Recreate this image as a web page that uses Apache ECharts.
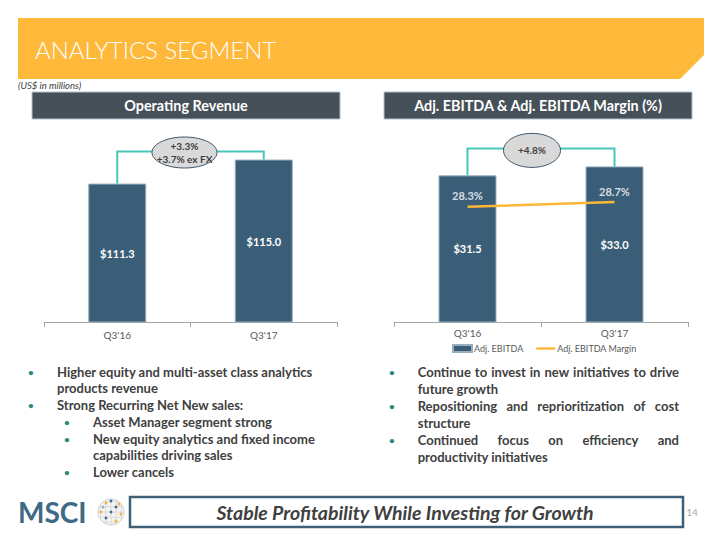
<!DOCTYPE html>
<html><head><meta charset="utf-8">
<script src="https://cdn.jsdelivr.net/npm/echarts@6/dist/echarts.min.js"></script>
<style>html,body{margin:0;padding:0;background:#fff}#c{width:720px;height:540px}</style>
</head><body><div id="c"></div>
<script>
// ---------- data ----------
const categories = ["Q3'16", "Q3'17"];
const operatingRevenue = [111.3, 115.0];
const adjEbitda = [31.5, 33.0];
const adjEbitdaMargin = [28.3, 28.7];
const revenueGrowthLabels = ["+3.3%", "+3.7% ex FX"];
const ebitdaGrowthLabels = ["+4.8%"];
const leftBullets = [
  {level: 0, lines: ["Higher equity and multi-asset class analytics", "products revenue"]},
  {level: 0, lines: ["Strong Recurring Net New sales:"]},
  {level: 1, lines: ["Asset Manager segment strong"]},
  {level: 1, lines: ["New equity analytics and fixed income", "capabilities driving sales"]},
  {level: 1, lines: ["Lower cancels"]}
];
const rightBullets = [
  ["Continue to invest in new initiatives to drive", "future growth"],
  ["Repositioning and reprioritization of cost", "structure"],
  ["Continued focus on efficiency and", "productivity initiatives"]
];

// ---------- styles ----------
const FONT = 'Lato, "Open Sans", sans-serif';
const BAR = '#3A5E78';
const TEAL = '#47C7BA';
const ORANGE = '#FBB735';
const TXT = '#404040';

const chart = echarts.init(document.getElementById('c'), null, {renderer: 'svg'});

function xAxisCfg(gi, margin) {
  return {
    type: 'category', gridIndex: gi, data: categories,
    axisLine: {lineStyle: {color: '#A6A6A6', width: 1}},
    axisTick: {show: true, length: 5, lineStyle: {color: '#A6A6A6'}},
    axisLabel: {color: '#595959', fontSize: 10, fontFamily: FONT, margin: margin}
  };
}
const barLabel = {
  show: true, position: 'inside', color: '#fff', fontWeight: 'bold', fontSize: 11, fontFamily: FONT,
  formatter: p => '$' + p.value.toFixed(1)
};

chart.setOption({
  animation: false,
  grid: [
    {left: 44, top: 127, width: 293, height: 195},
    {left: 394, top: 124.5, width: 294, height: 197.5}
  ],
  xAxis: [xAxisCfg(0, 8), xAxisCfg(1, 6)],
  yAxis: [
    {type: 'value', gridIndex: 0, min: 90, max: 120, show: false},
    {type: 'value', gridIndex: 1, min: 7, max: 40, show: false},
    {type: 'value', gridIndex: 1, min: 18.5, max: 35.3, show: false}
  ],
  legend: {
    left: 452, top: 344, padding: 0, itemWidth: 19, itemHeight: 7, itemGap: 13,
    textStyle: {color: '#595959', fontSize: 9, fontFamily: FONT, padding: [0, 0, 0, -3]},
    data: [{name: 'Adj. EBITDA', icon: 'rect'},
           {name: 'Adj. EBITDA Margin', icon: 'path://M0,0 L20,0 L20,2.5 L0,2.5 Z'}]
  },
  series: [
    {type: 'bar', name: 'Operating Revenue', xAxisIndex: 0, yAxisIndex: 0, data: operatingRevenue,
     barWidth: 58, itemStyle: {color: BAR, borderColor: '#9AAFBD', borderWidth: 1}, label: barLabel},
    {type: 'bar', name: 'Adj. EBITDA', xAxisIndex: 1, yAxisIndex: 1, data: adjEbitda,
     barWidth: 58, itemStyle: {color: BAR, borderColor: '#9AAFBD', borderWidth: 1}, label: barLabel},
    {type: 'line', name: 'Adj. EBITDA Margin', xAxisIndex: 1, yAxisIndex: 2, data: adjEbitdaMargin,
     symbol: 'none', color: ORANGE, itemStyle: {color: ORANGE}, lineStyle: {color: ORANGE, width: 2.5}, z: 5},
    {type: 'scatter', name: 'Margin labels', xAxisIndex: 1, yAxisIndex: 2, data: adjEbitdaMargin,
     symbolSize: 1, itemStyle: {color: 'rgba(0,0,0,0)'}, z: 6,
     label: {show: true, position: 'top', distance: 5, color: '#fff', fontWeight: 'bold', fontSize: 11,
             fontFamily: FONT, formatter: p => p.value.toFixed(1) + '%'}}
  ]
});

// ---------- annotation graphics ----------
const px = (xi, yi, x, y) => chart.convertToPixel({xAxisIndex: xi, yAxisIndex: yi}, [x, y]);
function ellipsePts(cx, cy, rx, ry) {
  const pts = [];
  for (let i = 0; i < 72; i++) {
    const a = i / 72 * Math.PI * 2;
    pts.push([cx + rx * Math.cos(a), cy + ry * Math.sin(a)]);
  }
  return pts;
}
const g = [];

// banner & title
g.push({type: 'polygon', shape: {points: [[18, 18], [704, 18], [704, 55], [680, 79], [18, 79]]},
        style: {fill: '#FEB83A'}, z: 1});
g.push({type: 'text', x: 35, y: 49, style: {text: 'ANALYTICS SEGMENT', fill: '#fff',
        font: '300 24px ' + FONT, verticalAlign: 'middle'}, z: 2});
g.push({type: 'text', x: 18, y: 85, style: {text: '(US$ in millions)', fill: TXT,
        font: 'italic 9.5px ' + FONT, verticalAlign: 'middle'}, z: 2});

// panel headers
[[32, 'Operating Revenue'], [384, 'Adj. EBITDA & Adj. EBITDA Margin (%)']].forEach(([x, t]) => {
  g.push({type: 'rect', shape: {x: x, y: 92, width: 308, height: 27},
          style: {fill: '#465059', stroke: '#B4C2CC', lineWidth: 1}, z: 1});
  g.push({type: 'text', x: x + 154, y: 105.5, style: {text: t, fill: '#fff',
          font: 'bold 14.4px ' + FONT, align: 'center', verticalAlign: 'middle'}, z: 2});
});

// connectors
function connector(xi, yi, vals, lift, ellDx, ellDy, rx, ry, labels) {
  const a = px(xi, yi, 0, vals[0]);
  const b = px(xi, yi, 1, vals[1]);
  const yTop = Math.min(a[1], b[1]) - lift;
  g.push({type: 'polyline', shape: {points: [[a[0], a[1]], [a[0], yTop], [b[0], yTop], [b[0], b[1]]]},
          style: {stroke: TEAL, lineWidth: 2, fill: null}, z: 3});
  const cx = (a[0] + b[0]) / 2 + ellDx, cy = yTop + ellDy;
  g.push({type: 'polygon', shape: {points: ellipsePts(cx, cy, rx, ry)},
          style: {fill: '#D9D9D9', stroke: '#3E5468', lineWidth: 1}, z: 4});
  const n = labels.length;
  labels.forEach((t, i) => {
    g.push({type: 'text', x: cx, y: cy + (i - (n - 1) / 2) * 13, style: {text: t, fill: TXT,
            font: 'bold 10px ' + FONT, align: 'center', verticalAlign: 'middle'}, z: 5});
  });
}
connector(0, 0, operatingRevenue, 8, -6, 1, 32.5, 15.5, revenueGrowthLabels);
connector(1, 1, adjEbitda, 18, -9, 2, 28.5, 17, ebitdaGrowthLabels);

// bullets
const BFONT = 'bold 13px ' + FONT;
const LH = 16.7;
let y = 371.7;
leftBullets.forEach(b => {
  const bx = b.level === 0 ? 31 : 67, tx = b.level === 0 ? 57 : 93;
  g.push({type: 'text', x: bx, y: y, style: {text: '•', fill: '#2A8A7E', font: 'bold 10px ' + FONT,
          align: 'center', verticalAlign: 'middle'}, z: 2});
  b.lines.forEach(l => {
    g.push({type: 'text', x: tx, y: y, style: {text: l, fill: TXT, font: BFONT, verticalAlign: 'middle'}, z: 2});
    y += LH;
  });
});

const ctx = document.createElement('canvas').getContext('2d');
ctx.font = BFONT;
const RX0 = 417.7, RX1 = 679;
y = 372.3;
rightBullets.forEach(lines => {
  g.push({type: 'text', x: 392, y: y, style: {text: '•', fill: '#2A8A7E', font: 'bold 10px ' + FONT,
          align: 'center', verticalAlign: 'middle'}, z: 2});
  lines.forEach((l, li) => {
    if (li < lines.length - 1) {
      const words = l.split(' ');
      const widths = words.map(w => ctx.measureText(w).width);
      const total = widths.reduce((s, w) => s + w, 0);
      const gap = (RX1 - RX0 - total) / (words.length - 1);
      let x = RX0;
      words.forEach((w, i) => {
        g.push({type: 'text', x: x, y: y, style: {text: w, fill: TXT, font: BFONT, verticalAlign: 'middle'}, z: 2});
        x += widths[i] + gap;
      });
    } else {
      g.push({type: 'text', x: RX0, y: y, style: {text: l, fill: TXT, font: BFONT, verticalAlign: 'middle'}, z: 2});
    }
    y += 17;
  });
});

// footer
g.push({type: 'text', x: 18, y: 512, style: {text: 'MSCI', fill: '#3E6A86', font: 'bold 28px ' + FONT,
        verticalAlign: 'middle'}, z: 2});
const gc = [111, 512], gr = 13;
g.push({type: 'circle', shape: {cx: gc[0], cy: gc[1], r: gr}, style: {fill: '#F4F4F4', stroke: '#D0D0D0', lineWidth: 1}, z: 2});
for (let i = -2; i <= 2; i++) {
  const d = i * 5.2, h = Math.sqrt(gr * gr - d * d);
  g.push({type: 'line', shape: {x1: gc[0] + d, y1: gc[1] - h, x2: gc[0] + d, y2: gc[1] + h}, style: {stroke: '#D6D6D6', lineWidth: 0.8}, z: 2});
  g.push({type: 'line', shape: {x1: gc[0] - h, y1: gc[1] + d, x2: gc[0] + h, y2: gc[1] + d}, style: {stroke: '#D6D6D6', lineWidth: 0.8}, z: 2});
}
const dots = [[-5, -9, '#F5B335'], [5, -5, '#3E6A86'], [-10, 0, '#F5B335'], [0, 0, '#3E6A86'], [10, 2, '#F5B335'],
              [-5, 6, '#3E6A86'], [5, 9, '#F5B335'], [0, -11, '#3E6A86'], [-8, -5, '#9AAFBD'], [8, -8, '#F5B335']];
dots.forEach(d => g.push({type: 'circle', shape: {cx: gc[0] + d[0], cy: gc[1] + d[1], r: 1.4}, style: {fill: d[2]}, z: 3}));
g.push({type: 'rect', shape: {x: 130, y: 497, width: 553, height: 30},
        style: {fill: '#fff', stroke: '#3D5F78', lineWidth: 2.5}, z: 2});
g.push({type: 'text', x: 405, y: 512, style: {text: 'Stable Profitability While Investing for Growth', fill: TXT,
        font: 'italic bold 19.5px ' + FONT, align: 'center', verticalAlign: 'middle'}, z: 3});
g.push({type: 'text', x: 692, y: 512, style: {text: '14', fill: '#A6A6A6', font: '10px ' + FONT,
        align: 'center', verticalAlign: 'middle'}, z: 3});

chart.setOption({graphic: g});
</script></body></html>
